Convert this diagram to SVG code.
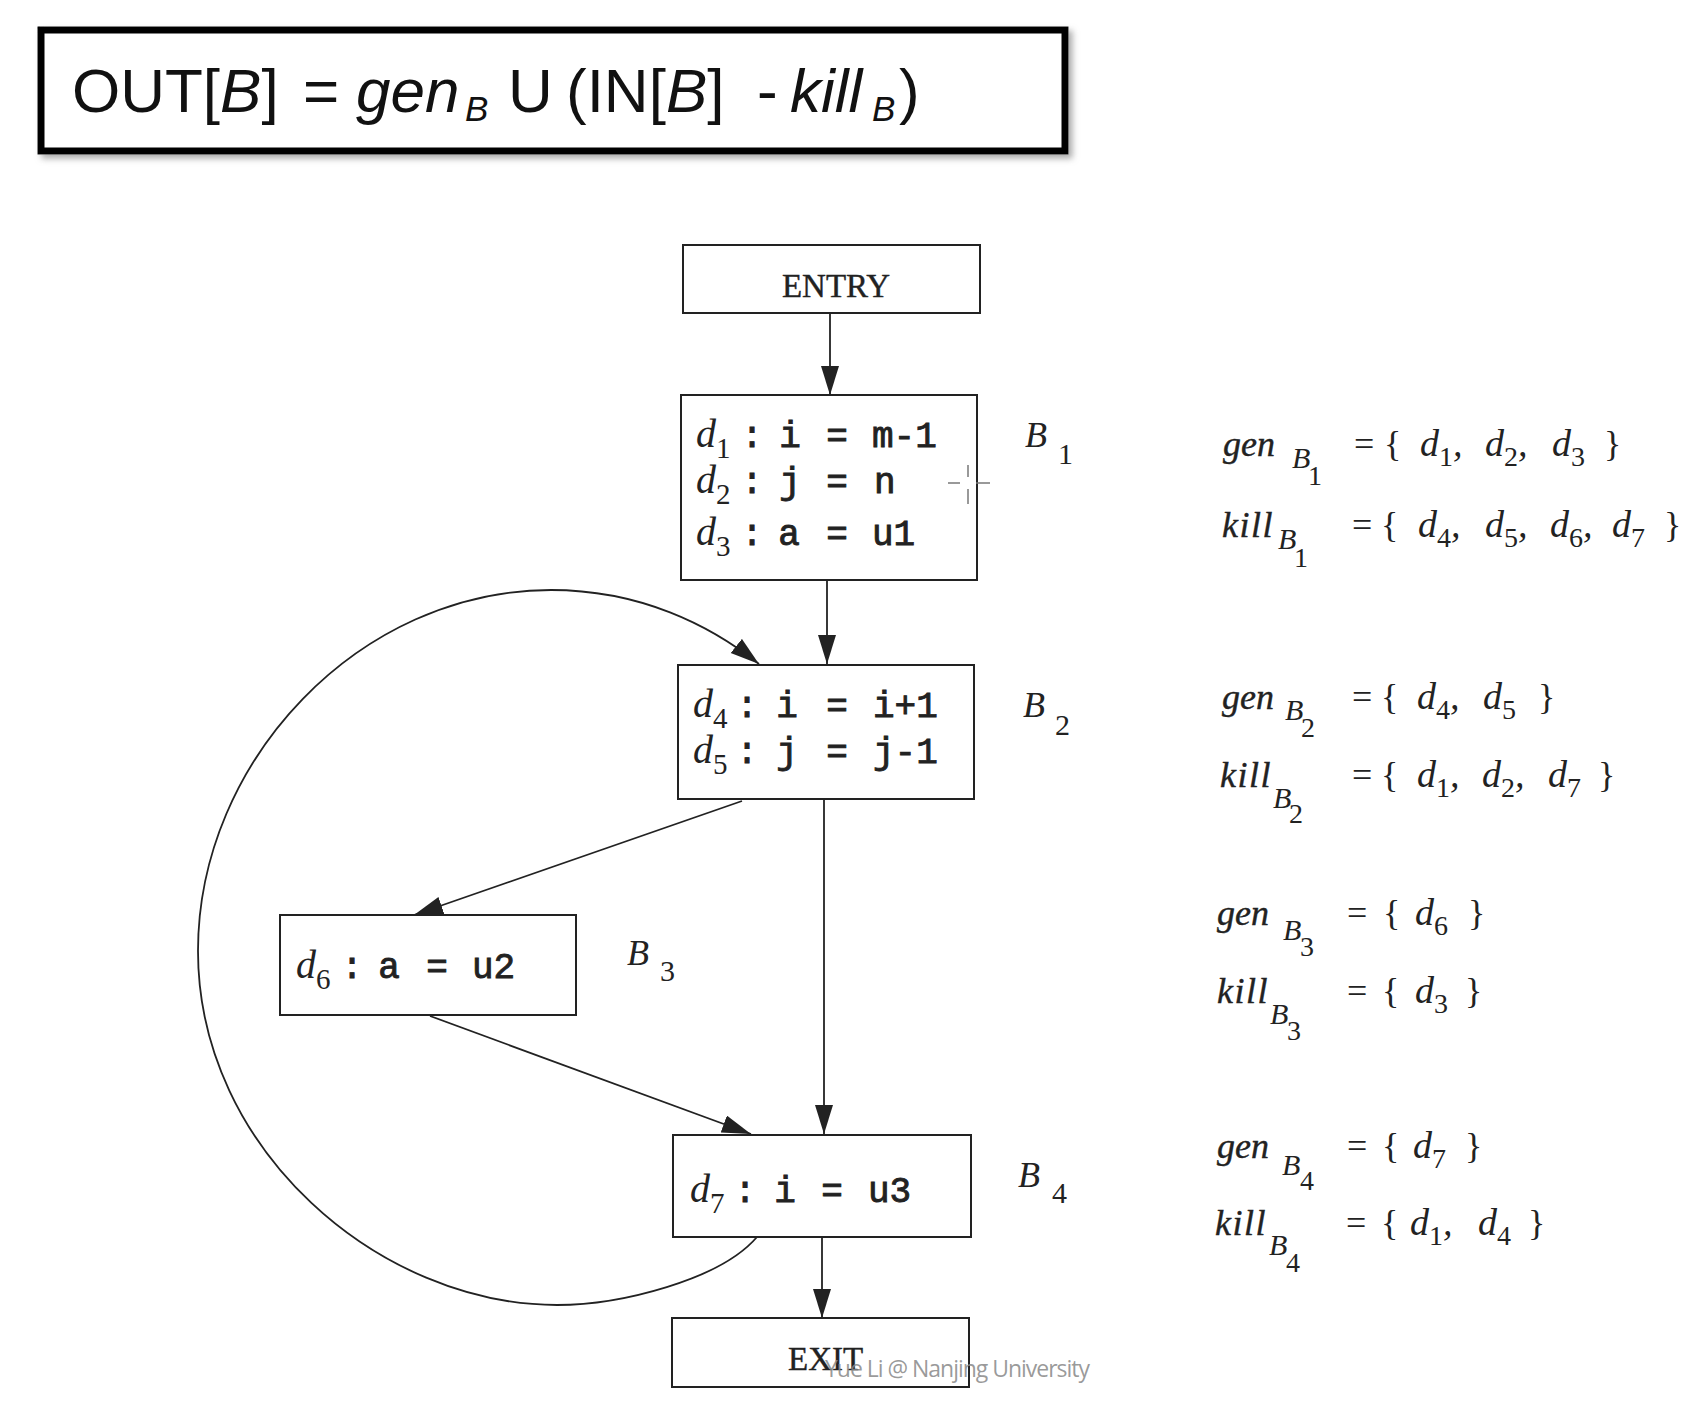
<svg xmlns="http://www.w3.org/2000/svg" width="1695" height="1409" viewBox="0 0 1695 1409">
<defs>
<style>
.box{fill:#fff;stroke:#222;stroke-width:2}
.edge{fill:none;stroke:#222;stroke-width:1.8}
.mono{font-family:"Liberation Mono","DejaVu Sans Mono",monospace;font-size:36px;font-weight:normal;fill:#222;stroke:#222;stroke-width:0.9}
.dv{font-family:"Liberation Serif",serif;font-style:italic;font-size:40px;fill:#222}
.sub{font-family:"Liberation Serif",serif;font-style:normal;font-size:29px}
.blab{font-family:"Liberation Serif",serif;font-style:italic;font-size:36px;fill:#222}
.bnum{font-family:"Liberation Serif",serif;font-size:30px;fill:#222}
.rom{font-family:"Liberation Serif",serif;font-size:33px;fill:#222;stroke:#222;stroke-width:0.4}
.fn{font-family:"Liberation Serif",serif;font-style:italic;font-size:36px;fill:#222;stroke:#222;stroke-width:0.4}
.kl{letter-spacing:1.5px}
.fB{font-family:"Liberation Serif",serif;font-style:italic;font-size:30px;fill:#222}
.fnum{font-family:"Liberation Serif",serif;font-size:28px;fill:#222}
.op{font-family:"Liberation Serif",serif;font-size:36px;fill:#222}
.fd{font-family:"Liberation Serif",serif;font-style:italic;font-size:38px;fill:#222}
.fds{font-family:"Liberation Serif",serif;font-style:normal;font-size:28px}
.title{font-family:"Liberation Sans",Arial,sans-serif;font-size:62px;fill:#111}
.it{font-style:italic}
.tsub{font-size:35px;font-style:italic}
.mk{fill:#222}
</style>
<marker id="arr" markerUnits="userSpaceOnUse" markerWidth="32" markerHeight="20" refX="29" refY="9" orient="auto">
<path class="mk" d="M0,0 L29,9 L0,18 z"/>
</marker>
<filter id="shadow" x="-5%" y="-20%" width="110%" height="140%">
<feDropShadow dx="4" dy="4" stdDeviation="3" flood-color="#888" flood-opacity="0.7"/>
</filter>
</defs>
<rect width="1695" height="1409" fill="#fff"/>

<g id="title">
<rect x="41" y="30" width="1024" height="121" fill="#fff" stroke="#000" stroke-width="7" filter="url(#shadow)"/>
<text class="title" y="112"><tspan x="72">OUT[</tspan><tspan class="it">B</tspan><tspan>]</tspan><tspan x="303">=</tspan><tspan x="356" class="it">gen</tspan><tspan x="465" y="121" class="tsub">B</tspan><tspan x="508" y="112">U</tspan><tspan x="566">(IN[</tspan><tspan class="it">B</tspan><tspan>]</tspan><tspan x="757">-</tspan><tspan x="790" class="it">kill</tspan><tspan x="872" y="121" class="tsub">B</tspan><tspan x="899" y="112">)</tspan></text>
</g>

<g id="connectors">
<line class="edge" x1="830" y1="313" x2="830" y2="395" marker-end="url(#arr)"/>
<line class="edge" x1="827" y1="580" x2="827" y2="664" marker-end="url(#arr)"/>
<line class="edge" x1="824" y1="800" x2="824" y2="1134" marker-end="url(#arr)"/>
<line class="edge" x1="742" y1="801" x2="414" y2="915" marker-end="url(#arr)"/>
<line class="edge" x1="430" y1="1016" x2="751" y2="1134" marker-end="url(#arr)"/>
<line class="edge" x1="822" y1="1237" x2="822" y2="1318" marker-end="url(#arr)"/>
<path class="edge" d="M757,1237 C720,1280 620,1305 557,1305 C380,1305 198,1150 198,951 C198,760 360,590 551,590 C640,590 710,625 759,664" marker-end="url(#arr)"/>
</g>

<g id="entry">
<rect class="box" x="683" y="245" width="297" height="68"/>
<text class="rom" x="836" y="297" text-anchor="middle">ENTRY</text>
</g>

<g id="b1">
<rect class="box" x="681" y="395" width="296" height="185"/>
<text class="dv" x="696" y="447">d<tspan class="sub" dy="11">1</tspan></text>
<text class="mono" x="752" y="447" text-anchor="middle">:</text>
<text class="mono" x="790" y="447" text-anchor="middle">i</text>
<text class="mono" x="837" y="447" text-anchor="middle">=</text>
<text class="mono" x="872" y="447">m-1</text>
<text class="dv" x="696" y="493">d<tspan class="sub" dy="11">2</tspan></text>
<text class="mono" x="752" y="493" text-anchor="middle">:</text>
<text class="mono" x="790" y="493" text-anchor="middle">j</text>
<text class="mono" x="837" y="493" text-anchor="middle">=</text>
<text class="mono" x="874" y="493">n</text>
<text class="dv" x="696" y="545">d<tspan class="sub" dy="11">3</tspan></text>
<text class="mono" x="752" y="545" text-anchor="middle">:</text>
<text class="mono" x="789" y="545" text-anchor="middle">a</text>
<text class="mono" x="837" y="545" text-anchor="middle">=</text>
<text class="mono" x="872" y="545">u1</text>
<text class="blab" x="1025" y="447">B</text>
<text class="bnum" x="1058" y="464">1</text>
</g>

<g id="b2">
<rect class="box" x="678" y="665" width="296" height="134"/>
<text class="dv" x="693" y="717">d<tspan class="sub" dy="11">4</tspan></text>
<text class="mono" x="747" y="717" text-anchor="middle">:</text>
<text class="mono" x="787" y="717" text-anchor="middle">i</text>
<text class="mono" x="837" y="717" text-anchor="middle">=</text>
<text class="mono" x="873" y="717">i+1</text>
<text class="dv" x="693" y="763">d<tspan class="sub" dy="11">5</tspan></text>
<text class="mono" x="747" y="763" text-anchor="middle">:</text>
<text class="mono" x="787" y="763" text-anchor="middle">j</text>
<text class="mono" x="837" y="763" text-anchor="middle">=</text>
<text class="mono" x="873" y="763">j-1</text>
<text class="blab" x="1023" y="717">B</text>
<text class="bnum" x="1055" y="735">2</text>
</g>

<g id="b3">
<rect class="box" x="280" y="915" width="296" height="100"/>
<text class="dv" x="296" y="978">d<tspan class="sub" dy="11">6</tspan></text>
<text class="mono" x="352" y="978" text-anchor="middle">:</text>
<text class="mono" x="389" y="978" text-anchor="middle">a</text>
<text class="mono" x="437" y="978" text-anchor="middle">=</text>
<text class="mono" x="472" y="978">u2</text>
<text class="blab" x="627" y="965">B</text>
<text class="bnum" x="660" y="981">3</text>
</g>

<g id="b4">
<rect class="box" x="673" y="1135" width="298" height="102"/>
<text class="dv" x="690" y="1202">d<tspan class="sub" dy="11">7</tspan></text>
<text class="mono" x="745" y="1202" text-anchor="middle">:</text>
<text class="mono" x="785" y="1202" text-anchor="middle">i</text>
<text class="mono" x="832" y="1202" text-anchor="middle">=</text>
<text class="mono" x="868" y="1202">u3</text>
<text class="blab" x="1018" y="1187">B</text>
<text class="bnum" x="1052" y="1203">4</text>
</g>

<g id="exit">
<rect class="box" x="672" y="1318" width="297" height="69"/>
<text class="rom" x="788" y="1370">EXIT</text>
</g>

<g id="sets">
<text class="fn" x="1223" y="456">gen</text>
<text class="fB" x="1292" y="468">B</text><text class="fnum" x="1308" y="485">1</text>
<text class="op" x="1354" y="456">=</text><text class="op" x="1384" y="456">{</text>
<text class="fd" x="1420" y="456">d<tspan class="fds" dy="10">1</tspan><tspan dy="-10">,</tspan></text>
<text class="fd" x="1485" y="456">d<tspan class="fds" dy="10">2</tspan><tspan dy="-10">,</tspan></text>
<text class="fd" x="1552" y="456">d<tspan class="fds" dy="10">3</tspan></text>
<text class="op" x="1604" y="456">}</text>

<text class="fn kl" x="1222" y="537">kill</text>
<text class="fB" x="1278" y="549">B</text><text class="fnum" x="1294" y="567">1</text>
<text class="op" x="1352" y="537">=</text><text class="op" x="1381" y="537">{</text>
<text class="fd" x="1418" y="537">d<tspan class="fds" dy="10">4</tspan><tspan dy="-10">,</tspan></text>
<text class="fd" x="1485" y="537">d<tspan class="fds" dy="10">5</tspan><tspan dy="-10">,</tspan></text>
<text class="fd" x="1550" y="537">d<tspan class="fds" dy="10">6</tspan><tspan dy="-10">,</tspan></text>
<text class="fd" x="1612" y="537">d<tspan class="fds" dy="10">7</tspan></text>
<text class="op" x="1664" y="537">}</text>

<text class="fn" x="1222" y="709">gen</text>
<text class="fB" x="1285" y="720">B</text><text class="fnum" x="1301" y="737">2</text>
<text class="op" x="1352" y="709">=</text><text class="op" x="1381" y="709">{</text>
<text class="fd" x="1417" y="709">d<tspan class="fds" dy="10">4</tspan><tspan dy="-10">,</tspan></text>
<text class="fd" x="1483" y="709">d<tspan class="fds" dy="10">5</tspan></text>
<text class="op" x="1538" y="709">}</text>

<text class="fn kl" x="1220" y="787">kill</text>
<text class="fB" x="1273" y="808">B</text><text class="fnum" x="1289" y="823">2</text>
<text class="op" x="1352" y="787">=</text><text class="op" x="1381" y="787">{</text>
<text class="fd" x="1417" y="787">d<tspan class="fds" dy="10">1</tspan><tspan dy="-10">,</tspan></text>
<text class="fd" x="1482" y="787">d<tspan class="fds" dy="10">2</tspan><tspan dy="-10">,</tspan></text>
<text class="fd" x="1548" y="787">d<tspan class="fds" dy="10">7</tspan></text>
<text class="op" x="1598" y="787">}</text>

<text class="fn" x="1217" y="925">gen</text>
<text class="fB" x="1283" y="940">B</text><text class="fnum" x="1300" y="956">3</text>
<text class="op" x="1347" y="925">=</text><text class="op" x="1383" y="925">{</text>
<text class="fd" x="1415" y="925">d<tspan class="fds" dy="10">6</tspan></text>
<text class="op" x="1468" y="925">}</text>

<text class="fn kl" x="1217" y="1003">kill</text>
<text class="fB" x="1270" y="1024">B</text><text class="fnum" x="1287" y="1040">3</text>
<text class="op" x="1347" y="1003">=</text><text class="op" x="1382" y="1003">{</text>
<text class="fd" x="1415" y="1003">d<tspan class="fds" dy="10">3</tspan></text>
<text class="op" x="1465" y="1003">}</text>

<text class="fn" x="1217" y="1158">gen</text>
<text class="fB" x="1282" y="1175">B</text><text class="fnum" x="1300" y="1190">4</text>
<text class="op" x="1347" y="1158">=</text><text class="op" x="1382" y="1158">{</text>
<text class="fd" x="1413" y="1158">d<tspan class="fds" dy="10">7</tspan></text>
<text class="op" x="1465" y="1158">}</text>

<text class="fn kl" x="1215" y="1235">kill</text>
<text class="fB" x="1269" y="1255">B</text><text class="fnum" x="1286" y="1272">4</text>
<text class="op" x="1346" y="1235">=</text><text class="op" x="1381" y="1235">{</text>
<text class="fd" x="1410" y="1235">d<tspan class="fds" dy="10">1</tspan><tspan dy="-10">,</tspan></text>
<text class="fd" x="1478" y="1235">d<tspan class="fds" dy="10">4</tspan></text>
<text class="op" x="1528" y="1235">}</text>
</g>

<g id="cursor" stroke="#777" stroke-width="1.5">
<line x1="948" y1="483" x2="960" y2="483"/>
<line x1="976" y1="483" x2="990" y2="483"/>
<line x1="968" y1="465" x2="968" y2="477"/>
<line x1="968" y1="489" x2="968" y2="504"/>
</g>

<text id="watermark" x="825" y="1377" font-family="'Open Sans','Noto Sans',sans-serif" font-size="23" fill="#888" fill-opacity="0.85" textLength="265">Yue Li @ Nanjing University</text>
</svg>
